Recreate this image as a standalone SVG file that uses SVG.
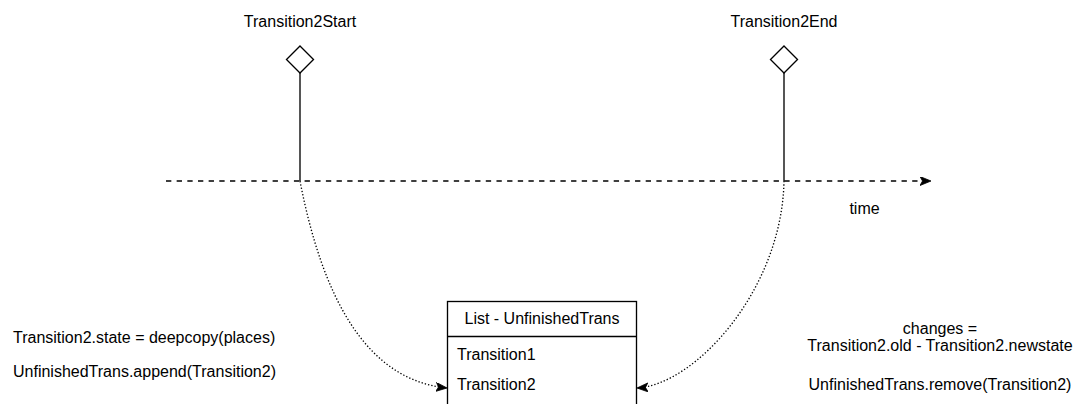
<svg xmlns="http://www.w3.org/2000/svg" width="1077" height="404" viewBox="0 0 1077 404">
  <defs>
    <style>
      text { font-family: "Liberation Sans", Arial, Helvetica, sans-serif; font-size: 16px; fill: #000; }
      .mid { text-anchor: middle; }
      .shape { fill: #fff; stroke: #000; stroke-width: 1.33; }
      .line { fill: none; stroke: #000; stroke-width: 1.33; }
      .dashed { fill: none; stroke: #000; stroke-width: 1.33; stroke-dasharray: 5.33 5.33; }
      .dotted { fill: none; stroke: #000; stroke-width: 1.33; stroke-dasharray: 1.33 2; }
    </style>
    <marker id="arrow" markerUnits="userSpaceOnUse" markerWidth="12" markerHeight="10" refX="11" refY="4.5" orient="auto" viewBox="0 0 12 10">
      <path d="M0,0 L11,4.5 L0,9 L2.5,4.5 Z" fill="#000" stroke="#000" stroke-width="0.8"/>
    </marker>
  </defs>
  <rect width="1077" height="404" fill="#fff"/>

  <g id="connectors">
    <line class="line" x1="300" y1="73" x2="300" y2="181"/>
    <line class="line" x1="784" y1="73" x2="784" y2="181"/>
    <line class="dashed" x1="166" y1="181" x2="931" y2="181" marker-end="url(#arrow)"/>
    <path class="dotted" d="M300,181 C322,295 365,380 447,388" marker-end="url(#arrow)"/>
    <path class="dotted" d="M784,181 C782,290 695,385 637,388" marker-end="url(#arrow)"/>
  </g>

  <g id="transition2start">
    <polygon class="shape" points="300,46 313.5,59.5 300,73 286.5,59.5"/>
    <text class="mid" x="300" y="26.5">Transition2Start</text>
  </g>

  <g id="transition2end">
    <polygon class="shape" points="784,46 797.5,59.5 784,73 770.5,59.5"/>
    <text class="mid" x="784" y="26.5">Transition2End</text>
  </g>

  <g id="time-label">
    <text class="mid" x="864.5" y="214">time</text>
  </g>

  <g id="list-unfinishedtrans">
    <rect class="shape" x="447.5" y="301.5" width="189" height="130"/>
    <line class="line" x1="447.5" y1="336.5" x2="636.5" y2="336.5"/>
    <text class="mid" x="542" y="323.5">List - UnfinishedTrans</text>
    <text x="457" y="359.5">Transition1</text>
    <text x="457" y="390">Transition2</text>
  </g>

  <g id="start-note">
    <text x="13" y="343">Transition2.state = deepcopy(places)</text>
    <text x="13" y="377">UnfinishedTrans.append(Transition2)</text>
  </g>

  <g id="end-note">
    <text class="mid" x="940" y="333.5">changes =</text>
    <text class="mid" x="940" y="351">Transition2.old - Transition2.newstate</text>
    <text class="mid" x="940" y="390">UnfinishedTrans.remove(Transition2)</text>
  </g>
</svg>
